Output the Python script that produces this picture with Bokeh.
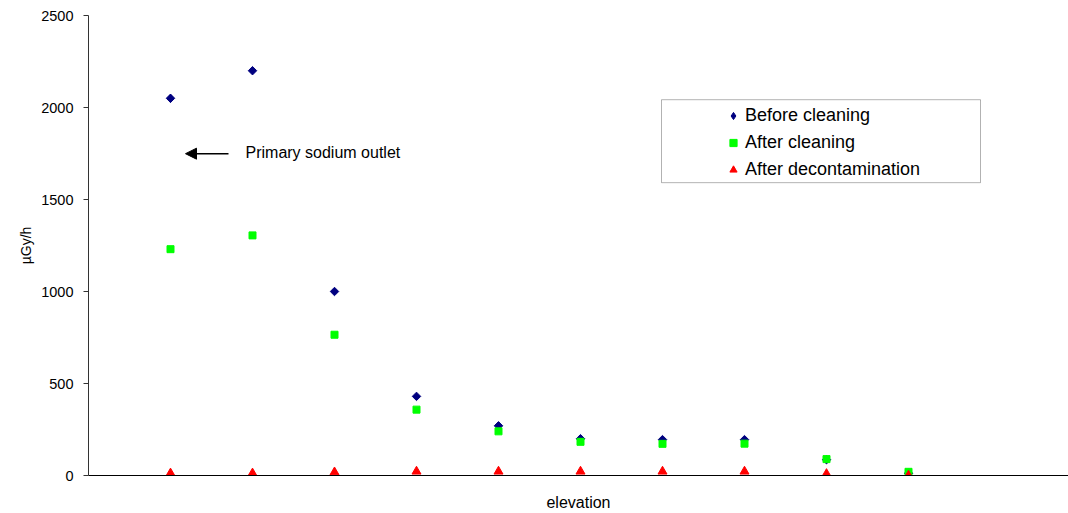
import math
from bokeh.plotting import figure
from bokeh.models import (Range1d, FixedTicker, Legend, LegendItem, Arrow, NormalHead,
                          Label, BoxAnnotation, ColumnDataSource, CDSView, IndexFilter)
from bokeh.embed import file_html
from bokeh.resources import INLINE

# ---- data ----
positions = [1, 2, 3, 4, 5, 6, 7, 8, 9, 10]
before_cleaning = [2050, 2200, 1000, 430, 270, 200, 195, 195, 86, 12]
after_cleaning = [1230, 1305, 765, 358, 240, 183, 172, 173, 89, 20]
after_decontamination = [12, 12, 18, 22, 22, 22, 22, 22, 9, 0]
y_ticks = [0, 500, 1000, 1500, 2000, 2500]

FONT = "Liberation Sans"

p = figure(width=1068, height=513, output_backend="svg", toolbar_location=None,
           x_range=Range1d(0, 980 / 82), y_range=Range1d(0, 2500),
           min_border_left=88, min_border_right=0, min_border_top=15, min_border_bottom=38)
p.outline_line_color = None
p.xgrid.visible = False
p.ygrid.visible = False
p.background_fill_color = "white"
p.border_fill_color = "white"

# y axis
ya = p.yaxis[0]
ya.ticker = FixedTicker(ticks=y_ticks)
ya.minor_tick_line_color = None
ya.major_tick_in = 0
ya.major_tick_out = 5
ya.major_label_standoff = 10
ya.major_label_text_font = FONT
ya.major_label_text_font_size = "14.5px"
ya.major_label_text_color = "black"
ya.axis_line_color = "#333333"
ya.major_tick_line_color = "#333333"
ya.axis_label = "µGy/h"
ya.axis_label_text_font = FONT
ya.axis_label_text_font_size = "14px"
ya.axis_label_text_font_style = "normal"
ya.axis_label_text_color = "black"
ya.axis_label_standoff = 4

# x axis
xa = p.xaxis[0]
xa.ticker = FixedTicker(ticks=[])
xa.minor_tick_line_color = None
xa.major_tick_in = 0
xa.major_tick_out = 0
xa.major_label_text_font_size = "0px"
xa.axis_line_color = "black"
xa.axis_label = "elevation"
xa.axis_label_text_font = FONT
xa.axis_label_text_font_size = "16px"
xa.axis_label_text_font_style = "normal"
xa.axis_label_text_color = "black"
xa.axis_label_standoff = 18

src = ColumnDataSource(dict(x=positions, b=before_cleaning, a=after_cleaning, d=after_decontamination))

r1 = p.scatter("x", "b", source=src, marker="square", angle=math.pi / 4, size=6,
               fill_color="#000080", line_color="#000080")
# legend key (diamond shape); its single point sits hidden inside the first rotated square
r1_key = p.scatter("x", "b", source=src, view=CDSView(filter=IndexFilter(indices=[0])),
                   marker="diamond", size=8, fill_color="#000080", line_color="#000080")
r2 = p.scatter("x", "a", source=src, marker="square", size=7,
               fill_color="#00FF00", line_color="#00FF00")
r3 = p.scatter("x", "d", source=src, marker="triangle", size=9,
               fill_color="#FF0000", line_color="#FF0000")

# legend frame
box = BoxAnnotation(left=(661 - 88) / 82, right=(980 - 88) / 82,
                    top=(475 - 99) / 0.1841, bottom=(475 - 182) / 0.1841,
                    fill_color="white", fill_alpha=1.0, line_color="black", line_width=1,
                    level="overlay")
p.add_layout(box)

legend = Legend(items=[LegendItem(label="Before cleaning", renderers=[r1_key]),
                       LegendItem(label="After cleaning", renderers=[r2]),
                       LegendItem(label="After decontamination", renderers=[r3])],
                location=(636, 292), padding=5, margin=0, spacing=0,
                glyph_width=18, glyph_height=27, label_height=27, label_standoff=3,
                label_text_font=FONT, label_text_font_size="18px", label_text_color="black",
                border_line_color=None, background_fill_alpha=0)
p.add_layout(legend)

# annotation
p.add_layout(Arrow(end=NormalHead(size=11, fill_color="black", line_color="black"),
                   x_start=(228 - 88) / 82, y_start=(475 - 153) / 0.1841,
                   x_end=(185 - 88) / 82, y_end=(475 - 153) / 0.1841,
                   line_color="black", line_width=1.5))
p.add_layout(Label(x=(245 - 88) / 82, y=(475 - 152) / 0.1841, text="Primary sodium outlet",
                   text_font=FONT, text_font_size="16px", text_baseline="middle",
                   text_color="black"))

open("out.html", "w").write(file_html(p, INLINE))
